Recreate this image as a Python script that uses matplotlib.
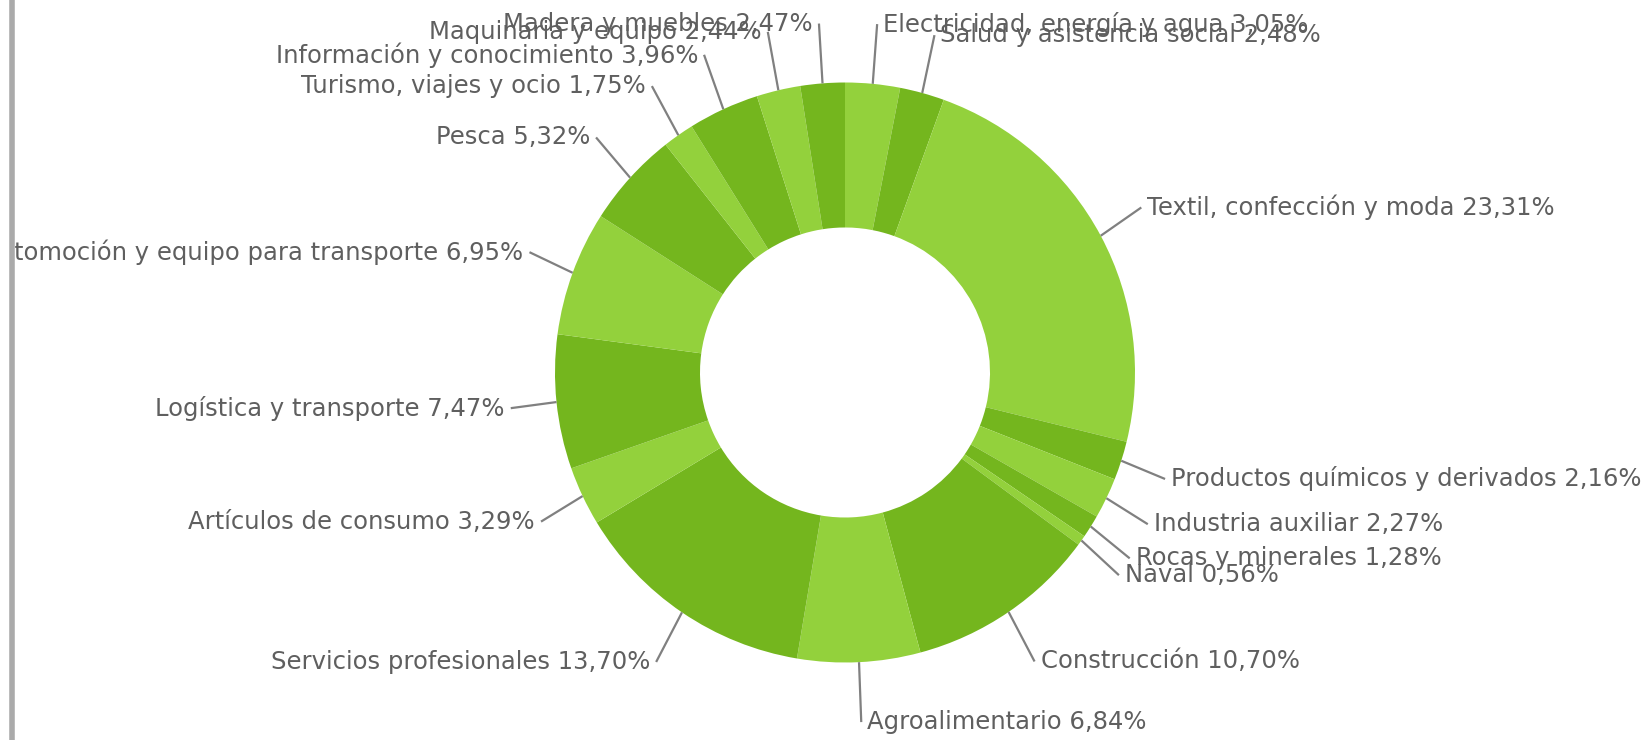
import numpy as np
import matplotlib
matplotlib.use("Agg")
import matplotlib.pyplot as plt
from matplotlib.patches import Rectangle

# sectors, clockwise from the top
sectors = ["Electricidad, energía y agua", "Salud y asistencia social",
           "Textil, confección y moda", "Productos químicos y derivados",
           "Industria auxiliar", "Rocas y minerales", "Naval", "Construcción",
           "Agroalimentario", "Servicios profesionales", "Artículos de consumo",
           "Logística y transporte", "Automoción y equipo para transporte",
           "Pesca", "Turismo, viajes y ocio", "Información y conocimiento",
           "Maquinaria y equipo", "Madera y muebles"]
shares = [3.05, 2.48, 23.31, 2.16, 2.27, 1.28, 0.56, 10.70, 6.84, 13.70,
          3.29, 7.47, 6.95, 5.32, 1.75, 3.96, 2.44, 2.47]

light = "#93d13c"
dark = "#74b61e"
colors = [light if i % 2 == 0 else dark for i in range(len(shares))]

W, H = 1650, 740
fig = plt.figure(figsize=(W / 100, H / 100), dpi=100)
ax = fig.add_axes([0, 0, 1, 1])

cx, cy = 845, H - 372.5
r = 290
r_in = 145
# label anchors sit on an ellipse around the donut
Rx, Ry = 336, 350

ax.pie(shares, colors=colors, startangle=90, counterclock=False,
       center=(cx, cy), radius=r, wedgeprops=dict(width=r - r_in, linewidth=0))
# pie resets the limits, so set them afterwards
ax.set_xlim(0, W)
ax.set_ylim(0, H)
ax.set_aspect("equal")
ax.axis("off")

total = sum(shares)
cum = np.cumsum([0] + shares[:-1])
for name, v, c0 in zip(sectors, shares, cum):
    th = np.deg2rad((c0 + v / 2) / total * 360)
    s, c = np.sin(th), np.cos(th)
    x0, y0 = cx + r * s, cy + r * c
    x1, y1 = cx + Rx * s, cy + Ry * c
    ax.plot([x0, x1], [y0, y1], color="#808080", lw=1.6, solid_capstyle="butt")
    lab = f"{name} {v:.2f}%".replace(".", ",")
    if s >= 0:
        ax.text(x1 + 6, y1, lab, ha="left", va="center", fontsize=17.5, color="#5f5f5f")
    else:
        ax.text(x1 - 6, y1, lab, ha="right", va="center", fontsize=17.5, color="#5f5f5f")

# left border of the container, texts clipped at it
ax.add_patch(Rectangle((0, 0), 14, H, color="white", zorder=5))
ax.plot([11.5, 11.5], [0, H], color="#aaaaaa", lw=4, zorder=6)

fig.savefig("out.png", dpi=100)
